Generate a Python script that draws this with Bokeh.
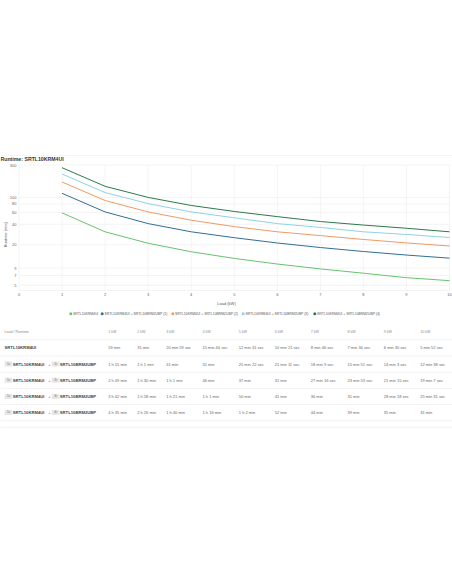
import math
from bokeh.plotting import figure
from bokeh.models import ColumnDataSource, FixedTicker, Range1d
from bokeh.layouts import column
from bokeh.embed import file_html
from bokeh.resources import INLINE
from bokeh.core.properties import value

# ---------------- data ----------------
loads_kw = [1, 2, 3, 4, 5, 6, 7, 8, 9, 10]
# runtimes in seconds
runtime_base = [3540, 1860, 1259, 944, 751, 621, 526, 454, 390, 352]
runtime_bp1 = [6900, 3660, 2460, 1860, 1522, 1271, 1089, 951, 843, 758]
runtime_bp2 = [10140, 5400, 3660, 2760, 2220, 1860, 1636, 1433, 1275, 1147]
runtime_bp3 = [13320, 7080, 4860, 3660, 3000, 2460, 2160, 1860, 1698, 1531]
runtime_bp4 = [16500, 8760, 6000, 4560, 3720, 3120, 2640, 2340, 2100, 1860]

series_names = [
    "SRTL10KRM4UI",
    "SRTL10KRM4UI + SRTL10BRM2UBP (1)",
    "SRTL10KRM4UI + SRTL10BRM2UBP (2)",
    "SRTL10KRM4UI + SRTL10BRM2UBP (3)",
    "SRTL10KRM4UI + SRTL10BRM2UBP (4)",
]
series_colors = ["#66c46d", "#2f6f96", "#ee9a63", "#8fd2e6", "#2b7a4b"]
battery_counts = [0, 1, 2, 3, 4]

x_ticks = [0, 1, 2, 3, 4, 5, 6, 7, 8, 9, 10]
y_ticks = [5, 7, 9, 20, 40, 60, 80, 100, 300]
y_min = 4.2

chart_title = "Runtime: SRTL10KRM4UI"
x_label = "Load (kW)"
y_label = "Runtime (min)"
table_corner = "Load / Runtime"
ups_name = "SRTL10KRM4UI"
pack_name = "SRTL10BRM2UBP"

FONT = "Liberation Sans"
W = 452
all_series = [runtime_base, runtime_bp1, runtime_bp2, runtime_bp3, runtime_bp4]

# ---------------- layout constants (page pixels) ----------------
FRAME_TOP = 162.0      # top of chart frame
Y_TOP_PX = 164.7       # where the top tick sits
Y_BOT_PX = 292.0       # bottom of data area
PLOT_L, PLOT_R = 18.5, 449.0
BOTTOM_BORDER = 16

# ---------------- header (title) ----------------
head = figure(width=W, height=int(FRAME_TOP), x_range=Range1d(0, W),
              y_range=Range1d(FRAME_TOP, 0), toolbar_location=None,
              output_backend="svg", min_border=0,
              x_axis_location=None, y_axis_location=None)
head.outline_line_color = None
head.grid.visible = False
head.segment(x0=[0], y0=[155], x1=[W], y1=[155], line_color="#eeeeee",
             line_width=0.6)
head.text(x=[0], y=[158.6], text=[chart_title], text_font=value(FONT),
          text_font_size="5.2px", text_font_style="bold", text_color="#333333",
          text_baseline="middle", text_align="left")

# ---------------- chart ----------------
px_per_unit = (PLOT_R - PLOT_L) / (x_ticks[-1] - x_ticks[0])
x_lo = x_ticks[0] - PLOT_L / px_per_unit
x_hi = x_ticks[-1] + (W - PLOT_R) / px_per_unit
px_per_decade = (Y_BOT_PX - Y_TOP_PX) / math.log10(y_ticks[-1] / y_min)
y_hi = y_ticks[-1] * 10 ** ((Y_TOP_PX - FRAME_TOP) / px_per_decade)

src = ColumnDataSource(dict(
    load=loads_kw,
    **{f"s{i}": [v / 60.0 for v in s] for i, s in enumerate(all_series)}
))

chart = figure(width=W, height=int(Y_BOT_PX - FRAME_TOP) + BOTTOM_BORDER,
               x_range=Range1d(x_lo, x_hi), y_range=Range1d(y_min, y_hi),
               y_axis_type="log", y_axis_location=None,
               toolbar_location=None, output_backend="svg",
               min_border_left=0, min_border_right=0, min_border_top=0,
               min_border_bottom=BOTTOM_BORDER)
chart.outline_line_color = None
chart.grid.visible = False

# grid lines (only across the data area)
chart.segment(x0=[x_ticks[0]] * len(y_ticks), y0=y_ticks,
              x1=[x_ticks[-1]] * len(y_ticks), y1=y_ticks,
              line_color="#ececec", line_width=0.6)
chart.segment(x0=x_ticks, y0=[y_min] * len(x_ticks),
              x1=x_ticks, y1=[y_ticks[-1]] * len(x_ticks),
              line_color="#ececec", line_width=0.6)
chart.segment(x0=[x_ticks[0]], y0=[y_min], x1=[x_ticks[-1]], y1=[y_min],
              line_color="#e2e2e2", line_width=0.8)

for i, col in enumerate(series_colors):
    chart.line(x="load", y=f"s{i}", source=src, line_color=col, line_width=1)

# y tick labels and y axis title
chart.text(x=[x_ticks[0]] * len(y_ticks), y=y_ticks,
           text=[str(t) for t in y_ticks], x_offset=-2.5,
           text_font=value(FONT), text_font_size="4px", text_color="#666666",
           text_baseline="middle", text_align="right")
chart.text(x=[x_ticks[0]], y=[28], text=[y_label], x_offset=-14,
           angle=math.pi / 2, text_font=value(FONT), text_font_size="4px",
           text_color="#555555", text_baseline="middle", text_align="center")

ax = chart.xaxis[0]
ax.ticker = FixedTicker(ticks=x_ticks)
ax.axis_label = x_label
ax.major_label_text_font = FONT
ax.major_label_text_font_size = "4px"
ax.major_label_text_color = "#666666"
ax.axis_label_text_font = FONT
ax.axis_label_text_font_size = "4px"
ax.axis_label_text_font_style = "normal"
ax.axis_label_text_color = "#555555"
ax.major_tick_out = 0
ax.major_tick_in = 0
ax.minor_tick_out = 0
ax.minor_tick_in = 0
ax.axis_line_color = None
ax.major_label_standoff = 2
ax.axis_label_standoff = 2

# ---------------- legend + table (page-pixel layout) ----------------
TOP = int(Y_BOT_PX) + BOTTOM_BORDER
tab = figure(width=W, height=500 - TOP, x_range=Range1d(0, W),
             y_range=Range1d(500, TOP), toolbar_location=None,
             output_backend="svg", min_border=0,
             x_axis_location=None, y_axis_location=None)
tab.outline_line_color = None
tab.grid.visible = False

legend_x = [70.3, 101.7, 172.3, 242.7, 314.3]
legend_y = 313.3
tab.scatter(x=legend_x, y=[legend_y] * 5, size=3, fill_color=series_colors,
            line_color=None)
tab.text(x=[lx + 2.3 for lx in legend_x], y=[legend_y] * 5, text=series_names,
         text_font=value(FONT), text_font_size="3.4px", text_color="#555555",
         text_baseline="middle", text_align="left")

col_x = [107.7, 136.7, 165.7, 202.0, 238.3, 274.3, 310.3, 347.0, 383.3, 419.7]
header_y = 331.7
row_y0 = 347.3
row_h = 16.2


def fmt(sec):
    h, rem = divmod(sec, 3600)
    m, s = divmod(rem, 60)
    if h:
        return f"{h} h {m} min"
    if sec >= 1800 or s == 0:
        return f"{m} min"
    return f"{m} min {s} sec"


tab.text(x=[4] + col_x, y=[header_y] * (1 + len(col_x)),
         text=[table_corner] + [f"{k} kW" for k in loads_kw],
         text_font=value(FONT), text_font_size="3.6px", text_color="#8a8a8a",
         text_baseline="middle", text_align="left")

sep_y = [header_y + 7.6 + row_h * i for i in range(6)] + [426.7]
tab.segment(x0=[0] * len(sep_y), y0=sep_y, x1=[W] * len(sep_y), y1=sep_y,
            line_color="#e9e9e9", line_width=0.6)

vx, vy, vt = [], [], []
for r, (series, nb) in enumerate(zip(all_series, battery_counts)):
    yy = row_y0 + row_h * r
    for c, v in enumerate(series):
        vx.append(col_x[c]); vy.append(yy); vt.append(fmt(v))
    if nb == 0:
        tab.text(x=[4], y=[yy], text=[ups_name], text_font=value(FONT),
                 text_font_size="4.2px", text_font_style="bold",
                 text_color="#444444", text_baseline="middle")
    else:
        tab.rect(x=[7.9, 55.0], y=[yy, yy], width=7.5, height=5,
                 fill_color="#e6e6e6", line_color=None)
        tab.text(x=[7.9, 55.0], y=[yy, yy], text=["1x", f"{nb}x"],
                 text_font=value(FONT), text_font_size="2.6px",
                 text_color="#666666", text_baseline="middle",
                 text_align="center")
        tab.text(x=[12.3, 59.3], y=[yy, yy], text=[ups_name, pack_name],
                 text_font=value(FONT), text_font_size="4.2px",
                 text_font_style="bold", text_color="#444444",
                 text_baseline="middle")
        tab.text(x=[49.0], y=[yy], text=["+"], text_font=value(FONT),
                 text_font_size="4.2px", text_color="#666666",
                 text_baseline="middle", text_align="center")

tab.text(x=vx, y=vy, text=vt, text_font=value(FONT), text_font_size="4px",
         text_color="#666666", text_baseline="middle", text_align="left")

page = column(head, chart, tab, spacing=0)
open("out.html", "w").write(file_html(page, INLINE))
